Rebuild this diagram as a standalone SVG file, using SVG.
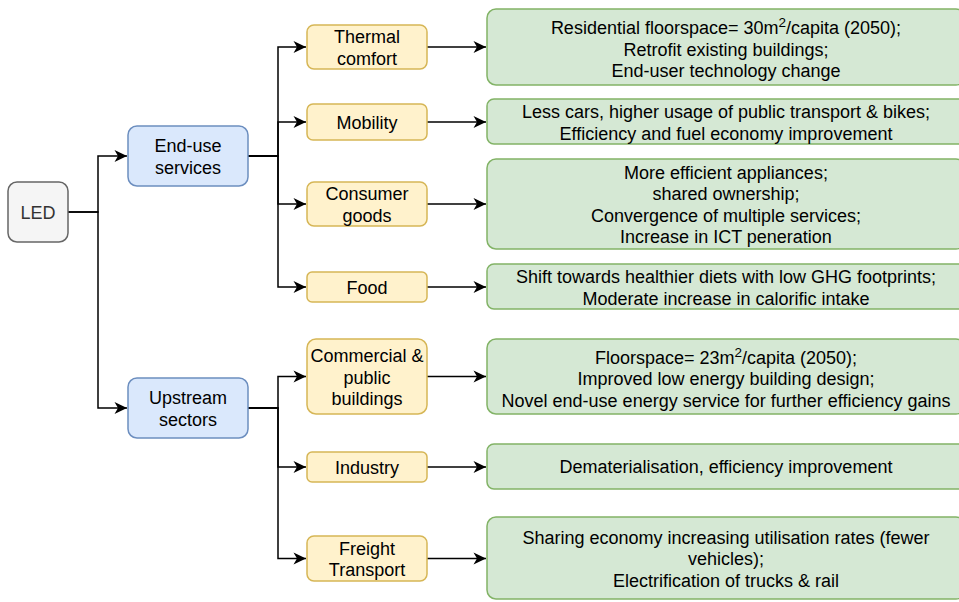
<svg xmlns="http://www.w3.org/2000/svg" width="959" height="602" viewBox="0 0 959 602">
<style>
text{font-family:"Liberation Sans",Arial,Helvetica,sans-serif;font-size:18px;text-anchor:middle;fill:#000}
.led rect{fill:#f5f5f5;stroke:#666666;stroke-width:1.5}
.led text{fill:#333333}
.blue rect{fill:#dae8fc;stroke:#6c8ebf;stroke-width:1.5}
.yel rect{fill:#fff2cc;stroke:#d6b656;stroke-width:1.5}
.grn rect{fill:#d5e8d4;stroke:#82b366;stroke-width:1.5}
.sup{font-size:13.5px}
#edges path{fill:none;stroke:#000;stroke-width:1.5;marker-end:url(#arr)}
</style>
<defs>
<marker id="arr" viewBox="-14 -7 15 14" markerWidth="15" markerHeight="14" refX="0" refY="0" orient="auto" markerUnits="userSpaceOnUse">
<path d="M0,0 L-12.5,-6 L-9,0 L-12.5,6 Z" fill="#000"/>
</marker>
</defs>
<rect width="959" height="602" fill="#fff"/>
<g id="edges">
<path d="M68,212 H98 V156 H127"/>
<path d="M68,212 H98 V408 H127"/>
<path d="M248,156 H278 V47 H306"/>
<path d="M248,156 H278 V122 H306"/>
<path d="M248,156 H278 V204 H306"/>
<path d="M248,156 H278 V287 H306"/>
<path d="M248,408 H278 V376.5 H306"/>
<path d="M248,408 H278 V467 H306"/>
<path d="M248,408 H278 V558.5 H306"/>
<path d="M427,47 H486"/>
<path d="M427,122 H486"/>
<path d="M427,204 H486"/>
<path d="M427,287 H486"/>
<path d="M427,376.5 H486"/>
<path d="M427,467 H486"/>
<path d="M427,558.5 H486"/>
</g>
<g id="led" class="led"><rect x="8" y="182" width="60" height="60" rx="9"/><text x="38" y="219">LED</text></g>
<g id="enduse" class="blue"><rect x="128" y="126" width="120" height="60" rx="9"/><text x="188" y="152.2">End-use</text><text x="188" y="173.7">services</text></g>
<g id="upstream" class="blue"><rect x="128" y="378" width="120" height="60" rx="9"/><text x="188" y="404.2">Upstream</text><text x="188" y="425.7">sectors</text></g>
<g id="thermal" class="yel"><rect x="307" y="25" width="120" height="44" rx="7"/><text x="367" y="43.2">Thermal</text><text x="367" y="64.7">comfort</text></g>
<g id="mobility" class="yel"><rect x="307" y="104" width="120" height="36" rx="6"/><text x="367" y="129">Mobility</text></g>
<g id="consumer" class="yel"><rect x="307" y="182" width="120" height="44" rx="7"/><text x="367" y="200.2">Consumer</text><text x="367" y="221.7">goods</text></g>
<g id="food" class="yel"><rect x="307" y="272" width="120" height="30" rx="5"/><text x="367" y="294">Food</text></g>
<g id="commercial" class="yel"><rect x="307" y="339" width="120" height="75" rx="9"/><text x="367" y="362">Commercial &amp;</text><text x="367" y="383.5">public</text><text x="367" y="405">buildings</text></g>
<g id="industry" class="yel"><rect x="307" y="452" width="120" height="30" rx="5"/><text x="367" y="474">Industry</text></g>
<g id="freight" class="yel"><rect x="307" y="536" width="120" height="45" rx="7"/><text x="367" y="554.7">Freight</text><text x="367" y="576.2">Transport</text></g>
<g id="g1" class="grn"><rect x="487" y="9" width="478" height="76" rx="9"/><text x="726" y="34">Residential floorspace= 30m<tspan class="sup" dy="-7">2</tspan><tspan dy="7">/capita (2050);</tspan></text><text x="726" y="55.5">Retrofit existing buildings;</text><text x="726" y="77">End-user technology change</text></g>
<g id="g2" class="grn"><rect x="487" y="99" width="478" height="45" rx="7"/><text x="726" y="118.2">Less cars, higher usage of public transport &amp; bikes;</text><text x="726" y="139.7">Efficiency and fuel economy improvement</text></g>
<g id="g3" class="grn"><rect x="487" y="159" width="478" height="90" rx="9"/><text x="726" y="178.8">More efficient appliances;</text><text x="726" y="200.3">shared ownership;</text><text x="726" y="221.8">Convergence of multiple services;</text><text x="726" y="243.3">Increase in ICT peneration</text></g>
<g id="g4" class="grn"><rect x="487" y="264" width="478" height="45" rx="7"/><text x="726" y="283">Shift towards healthier diets with low GHG footprints;</text><text x="726" y="304.5">Moderate increase in calorific intake</text></g>
<g id="g5" class="grn"><rect x="487" y="339" width="478" height="75" rx="9"/><text x="726" y="363.5">Floorspace= 23m<tspan class="sup" dy="-7">2</tspan><tspan dy="7">/capita (2050);</tspan></text><text x="726" y="385">Improved low energy building design;</text><text x="726" y="406.5">Novel end-use energy service for further efficiency gains</text></g>
<g id="g6" class="grn"><rect x="487" y="444" width="478" height="45" rx="7"/><text x="726" y="473.3">Dematerialisation, efficiency improvement</text></g>
<g id="g7" class="grn"><rect x="487" y="517" width="478" height="82" rx="9"/><text x="726" y="543.5">Sharing economy increasing utilisation rates (fewer</text><text x="726" y="565">vehicles);</text><text x="726" y="586.5">Electrification of trucks &amp; rail</text></g>
</svg>
